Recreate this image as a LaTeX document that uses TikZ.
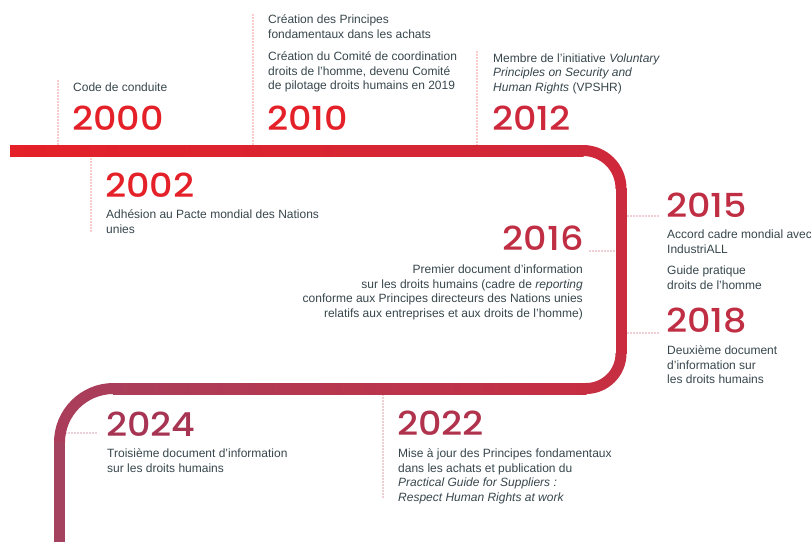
\documentclass[tikz,border=0pt]{standalone}
\usepackage{fontspec}
\setmainfont{Liberation Sans}
\newfontfamily\yearfont{Poppins}[UprightFont=* Medium, FakeStretch=1.11]
\definecolor{txt}{RGB}{55,70,76}
\definecolor{rA}{RGB}{228,32,40}
\definecolor{rB}{RGB}{206,40,60}
\definecolor{rC}{RGB}{192,46,68}
\definecolor{rD}{RGB}{176,50,76}
\definecolor{rE}{RGB}{166,52,82}
\definecolor{p1}{RGB}{228,32,40}
\definecolor{p2}{RGB}{207,40,58}
\definecolor{p3}{RGB}{203,43,62}
\definecolor{p4}{RGB}{198,46,66}
\definecolor{p5}{RGB}{170,62,90}
\definecolor{p6}{RGB}{164,66,96}
\begin{document}
\begin{tikzpicture}[x=1pt,y=-1pt,
  body/.style={font=\fontsize{12}{14.6}\selectfont, text=txt, inner sep=0pt, align=left, anchor=base west},
  bodyr/.style={body, align=right, anchor=base east},
  year/.style={font=\yearfont\fontsize{33}{33}\selectfont, inner sep=0pt, anchor=base west},
  dotline/.style={line width=1.3pt, dash pattern=on 0pt off 3pt, line cap=round}]
\clip (0,0) rectangle (811,541);
\useasboundingbox (0,0) rectangle (811,541);
% timeline path
\shade[left color=p1, right color=p2] (10,145) rectangle (583.5,156);
\draw[line width=11pt, p2] (583,150.5) arc[start angle=-90, end angle=0, radius=38];
\fill[p3] (615.5,188) rectangle (626.5,354);
\draw[line width=11pt, p4] (621,353.5) arc[start angle=0, end angle=90, radius=35];
\shade[left color=p5, right color=p4] (113,383) rectangle (586.5,394);
\draw[line width=11pt, p5] (113.5,388.5) arc[start angle=-90, end angle=-180, radius=54];
\fill[p6] (54,442) rectangle (65,545);
% years
\node[year, text=rA] (y2000) at (72,130) {2000};
\node[year, text=rA] (y2010) at (267,130) {2010};
\node[year, text=rB] (y2012) at (492,130) {2012};
\node[year, text=rA] (y2002) at (105,197) {2002};
\node[year, text=rC, anchor=base east] (y2016) at (584,250) {2016};
\node[year, text=rC] (y2015) at (666,217) {2015};
\node[year, text=rC] (y2018) at (666,332) {2018};
\node[year, text=rE] (y2024) at (106,436) {2024};
\node[year, text=rD] (y2022) at (397,435) {2022};
% texts (base anchor = baseline of the last line)
\node[body] (t2000) at (73,91) {Code de conduite};
\node[body] (t2010a) at (268,38.1) {Création des Principes\\fondamentaux dans les achats};
\node[body] (t2010b) at (268,89.7) {Création du Comité de coordination\\droits de l’homme, devenu Comité\\de pilotage droits humains en 2019};
\node[body] (t2012) at (493,91.2) {Membre de l’initiative \textit{Voluntary}\\\textit{Principles on Security and}\\\textit{Human Rights} (VPSHR)};
\node[body] (t2002) at (106,233.1) {Adhésion au Pacte mondial des Nations\\unies};
\node[bodyr] (t2016) at (583,317.3) {Premier document d'information\\sur les droits humains (cadre de \textit{reporting}\\conforme aux Principes directeurs des Nations unies\\relatifs aux entreprises et aux droits de l'homme)};
\node[body] (t2015a) at (667,253.1) {Accord cadre mondial avec\\IndustriALL};
\node[body] (t2015b) at (667,289.1) {Guide pratique\\droits de l'homme};
\node[body] (t2018) at (667,383.7) {Deuxième document\\d'information sur\\les droits humains};
\node[body] (t2024) at (107,472.1) {Troisième document d'information\\sur les droits humains};
\node[body] (t2022) at (398,501.3) {Mise à jour des Principes fondamentaux\\dans les achats et publication du\\\textit{Practical Guide for Suppliers :}\\\textit{Respect Human Rights at work}};
% dotted connectors
\coordinate (d2000a) at (58,81); \coordinate (d2000b) at (58,145);
\coordinate (d2002a) at (91,156); \coordinate (d2002b) at (91,231);
\coordinate (d2010a) at (253,15); \coordinate (d2010b) at (253,145);
\coordinate (d2012a) at (477,52); \coordinate (d2012b) at (477,145);
\coordinate (d2015a) at (628,216); \coordinate (d2015b) at (659,216);
\coordinate (d2016a) at (590,251); \coordinate (d2016b) at (614,251);
\coordinate (d2018a) at (628,333); \coordinate (d2018b) at (659,333);
\coordinate (d2022a) at (383,395); \coordinate (d2022b) at (383,499);
\coordinate (d2024a) at (66,433); \coordinate (d2024b) at (98,433);
\draw[dotline, rA] (d2000a) -- (d2000b);
\draw[dotline, rA] (d2002a) -- (d2002b);
\draw[dotline, rA] (d2010a) -- (d2010b);
\draw[dotline, rA] (d2012a) -- (d2012b);
\draw[dotline, rC] (d2015a) -- (d2015b);
\draw[dotline, rC] (d2016a) -- (d2016b);
\draw[dotline, rC] (d2018a) -- (d2018b);
\draw[dotline, rD] (d2022a) -- (d2022b);
\draw[dotline, rE] (d2024a) -- (d2024b);
\end{tikzpicture}
\end{document}
